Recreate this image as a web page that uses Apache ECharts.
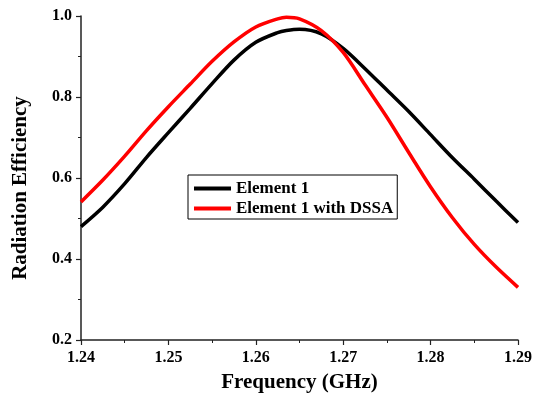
<!DOCTYPE html>
<html>
<head>
<meta charset="utf-8">
<script src="https://cdn.jsdelivr.net/npm/echarts@6/dist/echarts.min.js"></script>
<style>html,body{margin:0;padding:0;background:#fff}#c{width:535px;height:403px}</style>
</head>
<body>
<div id="c"></div>
<script>
var freq = [1.24, 1.2425, 1.245, 1.2475, 1.25, 1.2525, 1.255, 1.2575, 1.26, 1.2625, 1.2635, 1.265, 1.2675, 1.27, 1.2725, 1.275, 1.2775, 1.28, 1.2825, 1.285, 1.2875, 1.29];
var element1 = [0.480, 0.528, 0.586, 0.651, 0.712, 0.772, 0.833, 0.891, 0.935, 0.959, 0.964, 0.967, 0.956, 0.920, 0.870, 0.817, 0.764, 0.707, 0.650, 0.597, 0.543, 0.490];
var element1DSSA = [0.541, 0.595, 0.654, 0.717, 0.776, 0.832, 0.888, 0.936, 0.973, 0.993, 0.997, 0.993, 0.964, 0.910, 0.830, 0.750, 0.663, 0.578, 0.502, 0.436, 0.380, 0.330];
var seriesNames = ['Element 1', 'Element 1 with DSSA'];
var xLabel = 'Frequency (GHz)';
var yLabel = 'Radiation Efficiency';

function pairs(xs, ys) { return xs.map(function (x, i) { return [x, ys[i]]; }); }

var font = '"Liberation Serif", "Times New Roman", serif';
var chart = echarts.init(document.getElementById('c'), null, {renderer: 'canvas'});
chart.setOption({
  animation: false,
  backgroundColor: '#fff',
  grid: {left: 81, right: 16, top: 16, bottom: 63},
  legend: {
    orient: 'vertical', left: 188, top: 175,
    padding: [5, 4, 2, 6],
    borderColor: '#000', borderWidth: 1,
    itemWidth: 37, itemHeight: 4, itemGap: 3,
    icon: 'rect',
    textStyle: {fontFamily: font, fontWeight: 'bold', fontSize: 17, color: '#000'},
    data: seriesNames
  },
  xAxis: {
    type: 'value', min: 1.24, max: 1.29, interval: 0.01,
    name: xLabel, nameLocation: 'middle', nameGap: 32,
    nameTextStyle: {fontFamily: font, fontWeight: 'bold', fontSize: 21, color: '#000'},
    axisLine: {show: true, lineStyle: {color: '#222', width: 1.5}},
    axisTick: {show: true, inside: false, length: 5, lineStyle: {color: '#222', width: 1.2}},
    minorTick: {show: true, splitNumber: 2, length: 3, lineStyle: {color: '#222', width: 1}},
    splitLine: {show: false},
    axisLabel: {fontFamily: font, fontWeight: 'bold', fontSize: 16, color: '#000', margin: 10,
      formatter: function (v) { return v.toFixed(2); }}
  },
  yAxis: {
    type: 'value', min: 0.2, max: 1.0, interval: 0.2,
    name: yLabel, nameLocation: 'middle', nameGap: 50,
    nameTextStyle: {fontFamily: font, fontWeight: 'bold', fontSize: 21, color: '#000', padding: [0, 20, 0, 0]},
    axisLine: {show: true, lineStyle: {color: '#222', width: 1.5}},
    axisTick: {show: true, inside: false, length: 5, lineStyle: {color: '#222', width: 1.2}},
    minorTick: {show: true, splitNumber: 2, length: 3, lineStyle: {color: '#222', width: 1}},
    splitLine: {show: false},
    axisLabel: {fontFamily: font, fontWeight: 'bold', fontSize: 16, color: '#000', margin: 9,
      formatter: function (v) { return v.toFixed(1); }}
  },
  series: [
    {name: seriesNames[0], type: 'line', data: pairs(freq, element1), smooth: 0.3, showSymbol: false,
     lineStyle: {color: '#000', width: 3.5}, itemStyle: {color: '#000'}},
    {name: seriesNames[1], type: 'line', data: pairs(freq, element1DSSA), smooth: 0.3, showSymbol: false,
     lineStyle: {color: '#ff0000', width: 3.5}, itemStyle: {color: '#ff0000'}}
  ]
});
</script>
</body>
</html>
